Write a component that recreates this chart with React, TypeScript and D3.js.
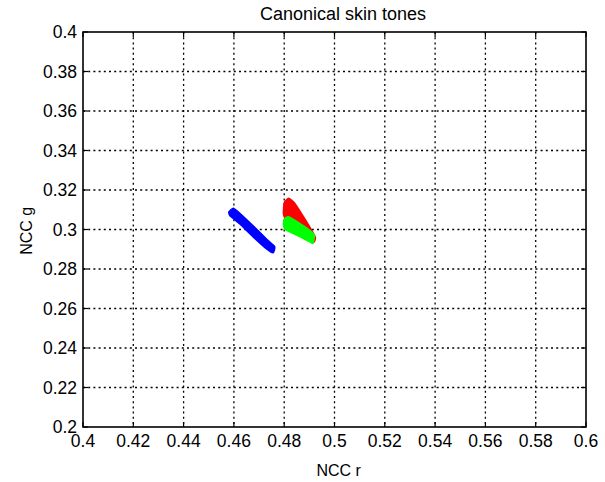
import React from "react";
import * as d3 from "d3";

const W = 605;
const H = 482;

const xTickLabels = ["0.4", "0.42", "0.44", "0.46", "0.48", "0.5", "0.52", "0.54", "0.56", "0.58", "0.6"];
const yTickLabels = ["0.2", "0.22", "0.24", "0.26", "0.28", "0.3", "0.32", "0.34", "0.36", "0.38", "0.4"];

// Outlines of the point clouds (NCC r, NCC g)
const blueCloud: [number, number][] = [
  [0.4582, 0.3088], [0.4598, 0.3105], [0.4622, 0.308], [0.4677, 0.3014], [0.473, 0.2947],
  [0.476, 0.2912], [0.4755, 0.2885], [0.473, 0.2905], [0.4677, 0.2966], [0.4624, 0.3031],
  [0.4586, 0.3072],
];
const redCloud: [number, number][] = [
  [0.4802, 0.3135], [0.4818, 0.3155], [0.4838, 0.3135], [0.4874, 0.3065], [0.4906, 0.2998],
  [0.4922, 0.2958], [0.4916, 0.2938], [0.4887, 0.2974], [0.4849, 0.3008], [0.4811, 0.304],
  [0.4799, 0.308],
];
const greenCloud: [number, number][] = [
  [0.4805, 0.3055], [0.4816, 0.3062], [0.485, 0.3038], [0.4889, 0.3005], [0.4918, 0.2972],
  [0.4913, 0.2933], [0.4903, 0.294], [0.4863, 0.2966], [0.4823, 0.299], [0.4802, 0.3008],
  [0.4799, 0.3031],
];

const clouds = [
  { name: "blue", color: "#0000ff", pts: blueCloud },
  { name: "red", color: "#ff0000", pts: redCloud },
  { name: "green", color: "#00ff00", pts: greenCloud },
];

const L = 83, R = 586, T = 32, B = 427;
const FONT = "'Liberation Sans', Arial, Helvetica, sans-serif";

export default function App() {
  const x = d3.scaleLinear().domain([0.4, 0.6]).range([L, R]);
  const y = d3.scaleLinear().domain([0.2, 0.4]).range([B, T]);
  const xTicks = xTickLabels.map(Number);
  const yTicks = yTickLabels.map(Number);
  const poly = d3
    .line<[number, number]>()
    .x((d) => x(d[0]))
    .y((d) => y(d[1]))
    .curve(d3.curveCardinalClosed.tension(0.6));
  const tickLen = 5;

  return (
    <svg
      width={W}
      height={H}
      style={{ position: "absolute", left: 0, top: 0, background: "#fff" }}
      fontFamily={FONT}
    >
      <rect x={0} y={0} width={W} height={H} fill="#fff" />
      {/* grid */}
      <g stroke="#000" strokeWidth={1.3} strokeDasharray="2,3.2" fill="none">
        {xTicks.slice(1, -1).map((t, i) => (
          <line key={"gx" + i} x1={x(t)} x2={x(t)} y1={T} y2={B} />
        ))}
        {yTicks.slice(1, -1).map((t, i) => (
          <line key={"gy" + i} x1={L} x2={R} y1={y(t)} y2={y(t)} />
        ))}
      </g>
      {/* data */}
      {clouds.map((c) => (
        <path
          key={c.name}
          d={poly(c.pts) || ""}
          fill={c.color}
          stroke={c.color}
          strokeWidth={2.6}
          strokeLinejoin="round"
        />
      ))}
      {/* ticks */}
      <g stroke="#000" strokeWidth={1.2}>
        {xTicks.map((t, i) => (
          <g key={"tx" + i}>
            <line x1={x(t)} x2={x(t)} y1={B} y2={B - tickLen} />
            <line x1={x(t)} x2={x(t)} y1={T} y2={T + tickLen} />
          </g>
        ))}
        {yTicks.map((t, i) => (
          <g key={"ty" + i}>
            <line x1={L} x2={L + tickLen} y1={y(t)} y2={y(t)} />
            <line x1={R} x2={R - tickLen} y1={y(t)} y2={y(t)} />
          </g>
        ))}
      </g>
      {/* box */}
      <rect x={L} y={T} width={R - L} height={B - T} fill="none" stroke="#000" strokeWidth={1.6} />
      {/* tick labels */}
      <g fontSize={17.5} fill="#000">
        {xTicks.map((t, i) => (
          <text key={"lx" + i} x={x(t)} y={447} textAnchor="middle">
            {xTickLabels[i]}
          </text>
        ))}
        {yTicks.map((t, i) => (
          <text key={"ly" + i} x={77} y={y(t)} dy="0.36em" textAnchor="end">
            {yTickLabels[i]}
          </text>
        ))}
      </g>
      <text x={343} y={20} textAnchor="middle" fontSize={18}>
        Canonical skin tones
      </text>
      <text x={338.7} y={476} textAnchor="middle" fontSize={16}>
        NCC r
      </text>
      <text
        transform={`translate(31.7,230.8) rotate(-90)`}
        textAnchor="middle"
        fontSize={16}
      >
        NCC g
      </text>
    </svg>
  );
}
